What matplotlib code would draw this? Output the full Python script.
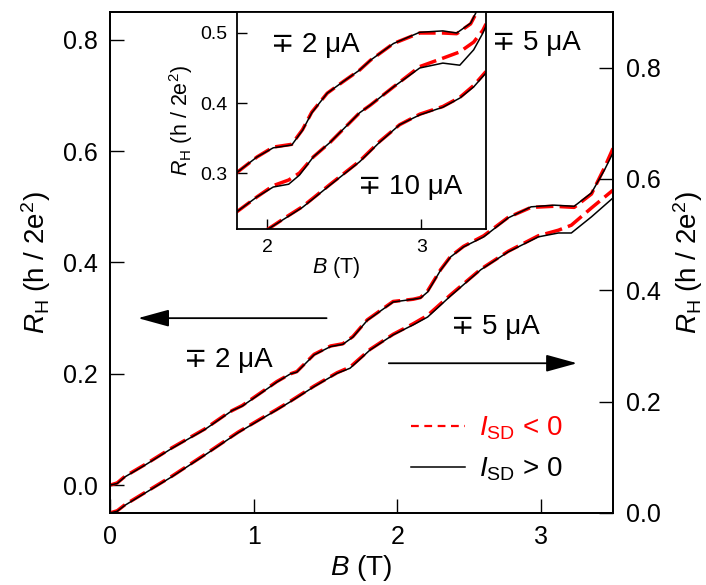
import numpy as np
import matplotlib
matplotlib.use('Agg')
import matplotlib.pyplot as plt
from matplotlib.lines import Line2D

plt.rcParams['font.family'] = ['Liberation Sans', 'DejaVu Sans']
plt.rcParams['mathtext.fontset'] = 'custom'
plt.rcParams['mathtext.rm'] = 'Liberation Sans'
plt.rcParams['mathtext.it'] = 'Liberation Sans:italic'

# main panel, -/+2 uA (left axis)
b2 = [0, 0.05, 0.105, 0.25, 0.43, 0.66, 0.80, 0.85, 0.92, 1.06, 1.16, 1.256, 1.30,
      1.42, 1.535, 1.62, 1.69, 1.79, 1.97, 2.11, 2.16, 2.21, 2.30, 2.37, 2.46, 2.60,
      2.77, 2.93, 3.09, 3.23, 3.35, 3.44, 3.5]
r2_pos = [0.0, 0.003, 0.015, 0.037, 0.066, 0.100, 0.125, 0.134, 0.142, 0.167, 0.185,
          0.200, 0.203, 0.234, 0.249, 0.253, 0.266, 0.296, 0.329, 0.334, 0.336, 0.347,
          0.386, 0.410, 0.428, 0.446, 0.480, 0.500, 0.503, 0.501, 0.525, 0.566, 0.597]
r2_neg = [0.0, 0.004, 0.016, 0.038, 0.067, 0.101, 0.126, 0.134, 0.143, 0.168, 0.186,
          0.200, 0.204, 0.235, 0.250, 0.254, 0.267, 0.297, 0.330, 0.334, 0.337, 0.349,
          0.387, 0.411, 0.429, 0.448, 0.481, 0.499, 0.501, 0.499, 0.523, 0.570, 0.605]

# main panel, -/+5 uA (right axis)
b5 = [0, 0.05, 0.105, 0.43, 0.66, 0.89, 1.08, 1.16, 1.256, 1.42, 1.58, 1.67, 1.81,
      1.97, 2.11, 2.21, 2.37, 2.58, 2.77, 2.98, 3.12, 3.21, 3.35, 3.5]
r5_pos = [0.0, 0.003, 0.014, 0.065, 0.104, 0.144, 0.173, 0.185, 0.200, 0.227, 0.251,
          0.260, 0.293, 0.320, 0.338, 0.352, 0.390, 0.437, 0.469, 0.496, 0.503, 0.503,
          0.532, 0.566]
r5_neg = [0.0, 0.004, 0.015, 0.066, 0.105, 0.145, 0.174, 0.186, 0.201, 0.228, 0.252,
          0.262, 0.294, 0.321, 0.340, 0.355, 0.392, 0.438, 0.470, 0.498, 0.508, 0.517,
          0.548, 0.580]

# inset
bi2 = [1.80, 1.935, 2.04, 2.16, 2.23, 2.29, 2.39, 2.49, 2.60, 2.67, 2.82, 2.99, 3.14,
       3.23, 3.32, 3.38]
ri2_pos = [0.300, 0.323, 0.336, 0.340, 0.361, 0.386, 0.414, 0.430, 0.447, 0.461, 0.485,
           0.501, 0.503, 0.500, 0.514, 0.540]
ri2_neg = [0.300, 0.323, 0.337, 0.341, 0.362, 0.387, 0.414, 0.430, 0.447, 0.461, 0.485,
           0.500, 0.500, 0.499, 0.513, 0.538]

bi5 = [1.80, 1.935, 2.04, 2.14, 2.21, 2.30, 2.41, 2.60, 2.67, 2.82, 2.99, 3.14, 3.25,
       3.34, 3.40, 3.42]
ri5_pos = [0.244, 0.266, 0.280, 0.284, 0.297, 0.323, 0.344, 0.386, 0.397, 0.423, 0.450,
           0.457, 0.454, 0.476, 0.500, 0.510]
ri5_neg = [0.244, 0.266, 0.282, 0.290, 0.300, 0.323, 0.344, 0.386, 0.397, 0.423, 0.452,
           0.464, 0.473, 0.487, 0.504, 0.513]

bi10 = [2.00, 2.13, 2.23, 2.41, 2.60, 2.73, 2.86, 2.99, 3.14, 3.25, 3.34, 3.42]
ri10_pos = [0.219, 0.237, 0.251, 0.283, 0.316, 0.344, 0.369, 0.383, 0.394, 0.407,
            0.423, 0.443]
ri10_neg = [0.219, 0.238, 0.252, 0.284, 0.317, 0.345, 0.369, 0.384, 0.395, 0.408,
            0.425, 0.445]

RED = '#ff0000'
dash = (0, (5, 1.8))
ylab = r'$R_\mathrm{H}$ (h / 2e$^2$)'

fig = plt.figure(figsize=(7.06, 5.85), dpi=100)
ax = fig.add_axes([0.1558, 0.1231, 0.7125, 0.8564])
ax2 = ax.twinx()

ax.plot(b2, r2_neg, color=RED, lw=2.5, ls=dash, zorder=2)
ax.plot(b2, r2_pos, color='black', lw=1.1, zorder=3)
ax2.plot(b5, r5_neg, color=RED, lw=2.5, ls=dash, zorder=2)
ax2.plot(b5, r5_pos, color='black', lw=1.1, zorder=3)

ax.set_xlim(0, 3.5)
ax.set_ylim(-0.05, 0.85)
ax2.set_ylim(0, 0.9)
ax.set_xticks([0, 1, 2, 3])
ax.set_yticks([0.0, 0.2, 0.4, 0.6, 0.8])
ax2.set_yticks([0.0, 0.2, 0.4, 0.6, 0.8])
ax.yaxis.set_major_formatter(plt.FormatStrFormatter('%.1f'))
ax2.yaxis.set_major_formatter(plt.FormatStrFormatter('%.1f'))
ax.tick_params(axis='both', direction='in', length=10, width=1.0, labelsize=18, pad=9)
ax.tick_params(axis='y', right=False)
ax2.tick_params(axis='y', direction='in', length=10, width=1.0, labelsize=18, pad=9)
for a in (ax, ax2):
    for s in a.spines.values():
        s.set_linewidth(1.3)

ax.set_xlabel(r'$B$ (T)', fontsize=20)
ax.xaxis.set_label_coords(0.5, -0.08)
ax.set_ylabel(ylab, fontsize=20)
ax.yaxis.set_label_coords(-0.113, 0.5)
ax2.set_ylabel(ylab, fontsize=20)
ax2.yaxis.set_label_coords(1.116, 0.5)

# arrows and annotations
ax.annotate('', xy=(0.195, 0.300), xytext=(1.507, 0.300),
            arrowprops=dict(arrowstyle='-|>,head_length=0.8,head_width=0.22',
                            mutation_scale=24, lw=1.3, color='black',
                            shrinkA=0, shrinkB=0))
ax.annotate('', xy=(3.25, 0.219), xytext=(1.94, 0.219),
            arrowprops=dict(arrowstyle='-|>,head_length=0.8,head_width=0.22',
                            mutation_scale=24, lw=1.3, color='black',
                            shrinkA=0, shrinkB=0))
ax.text(0.823, 0.225, '∓ 2 μA', fontsize=20, ha='center', va='center')
ax.text(2.68, 0.284, '∓ 5 μA', fontsize=20, ha='center', va='center')
ax.text(2.97, 0.794, '∓ 5 μA', fontsize=20, ha='center', va='center')

handles = [Line2D([], [], color=RED, lw=1.6, ls=(0, (3.5, 2.5))),
           Line2D([], [], color='black', lw=1.1)]
fig.legend(handles, [r'$I_\mathrm{SD}$ < 0', r'$I_\mathrm{SD}$ > 0'],
           loc='center', bbox_to_anchor=(0.689, 0.233), frameon=False,
           fontsize=20, handlelength=1.95, handletextpad=0.5, labelspacing=0.5,
           labelcolor='linecolor')

# inset
axi = fig.add_axes([0.3357, 0.6085, 0.3527, 0.371])
axi.plot(bi2, ri2_neg, color=RED, lw=2.5, ls=dash)
axi.plot(bi2, ri2_pos, color='black', lw=1.1)
axi.plot(bi5, ri5_neg, color=RED, lw=2.5, ls=dash)
axi.plot(bi5, ri5_pos, color='black', lw=1.1)
axi.plot(bi10, ri10_neg, color=RED, lw=2.5, ls=dash)
axi.plot(bi10, ri10_pos, color='black', lw=1.1)
axi.set_xlim(1.805, 3.42)
axi.set_ylim(0.22, 0.53)
axi.set_xticks([2, 3])
axi.set_yticks([0.3, 0.4, 0.5])
axi.tick_params(direction='in', length=7, width=1.0, labelsize=14, pad=7)
for s in axi.spines.values():
    s.set_linewidth(1.3)
axi.set_xlabel(r'$B$ (T)', fontsize=15.5)
axi.xaxis.set_label_coords(0.40, -0.12)
axi.set_ylabel(ylab, fontsize=15.5)
axi.yaxis.set_label_coords(-0.17, 0.5)
axi.text(2.31, 0.483, '∓ 2 μA', fontsize=20, ha='center', va='center')
axi.text(2.93, 0.28, '∓ 10 μA', fontsize=20, ha='center', va='center')

fig.savefig('out.png', dpi=100)
